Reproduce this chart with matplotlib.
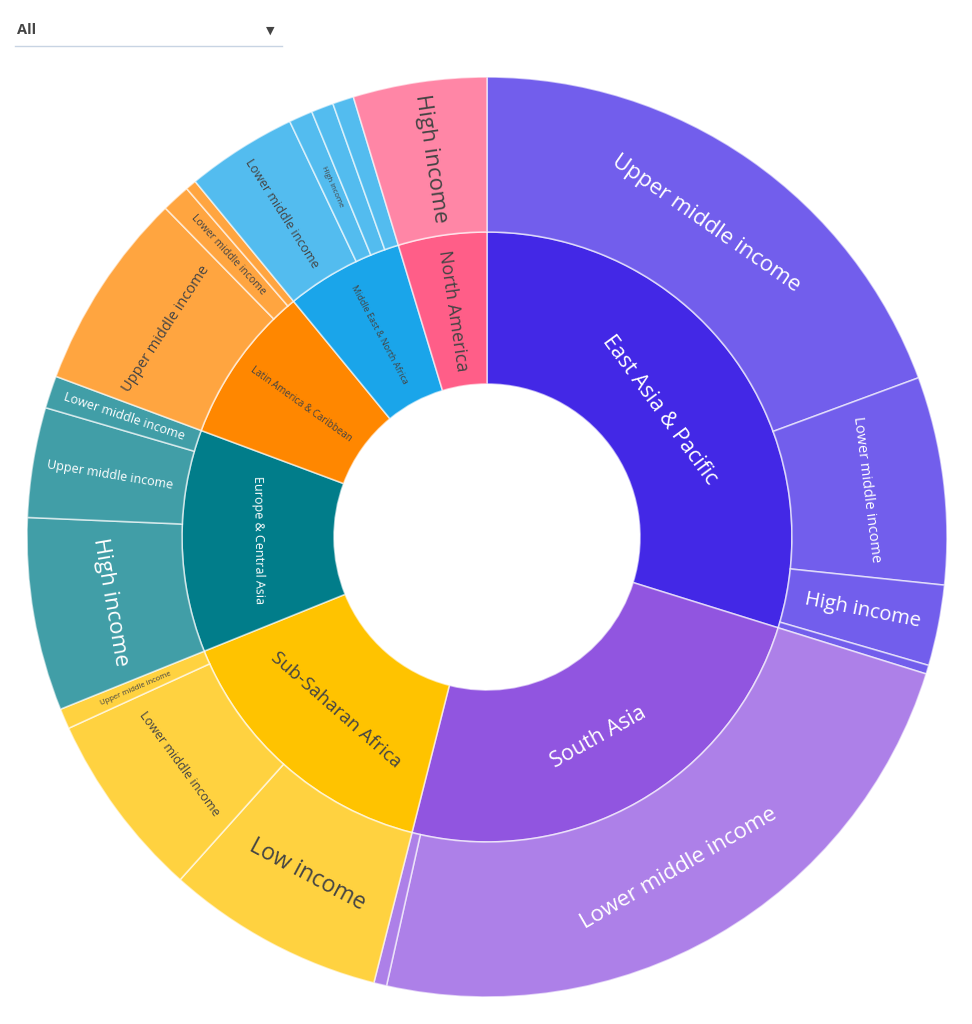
import numpy as np
import pandas as pd
import matplotlib
matplotlib.use('Agg')
import matplotlib.pyplot as plt
from matplotlib.lines import Line2D
from matplotlib.colors import to_rgb

plt.rcParams['font.family'] = ['Open Sans', 'DejaVu Sans']

# Población por región y grupo de ingreso (millones)
regiones = ['East Asia & Pacific', 'South Asia', 'Sub-Saharan Africa',
            'Europe & Central Asia', 'Latin America & Caribbean',
            'Middle East & North Africa', 'North America']

hijo_region = (['East Asia & Pacific'] * 4 + ['South Asia'] * 2 +
               ['Sub-Saharan Africa'] * 3 + ['Europe & Central Asia'] * 3 +
               ['Latin America & Caribbean'] * 3 +
               ['Middle East & North Africa'] * 4 + ['North America'])
hijo_ingreso = ['Upper middle income', 'Lower middle income', 'High income', 'Low income',
                'Lower middle income', 'Low income',
                'Low income', 'Lower middle income', 'Upper middle income',
                'High income', 'Upper middle income', 'Lower middle income',
                'Upper middle income', 'Lower middle income', 'High income',
                'Lower middle income', 'High income', 'Upper middle income', 'Low income',
                'High income']
poblacion = [1511, 569, 221, 24,
             1848, 35,
             598, 511, 56,
             529, 301, 89,
             546, 78, 30,
             303, 65, 61, 58,
             366]

df = pd.DataFrame({'region': hijo_region, 'ingreso': hijo_ingreso, 'pob': poblacion})
totales = df.groupby('region', sort=False)['pob'].sum().reindex(regiones)

# Estilos
color_region = {'East Asia & Pacific': '#4328E6', 'South Asia': '#9155E0',
                'Sub-Saharan Africa': '#FFC300', 'Europe & Central Asia': '#017D8A',
                'Latin America & Caribbean': '#FF8700',
                'Middle East & North Africa': '#1AA5EA', 'North America': '#FF5E88'}
texto_blanco = {'East Asia & Pacific', 'South Asia', 'Europe & Central Asia'}


def aclarar(c, f=0.25):
    r, g, b = to_rgb(c)
    return (r + (1 - r) * f, g + (1 - g) * f, b + (1 - b) * f)


estilo_interior = {
    'East Asia & Pacific': (15.5, 't'),
    'South Asia': (15.5, 't'),
    'Sub-Saharan Africa': (13.5, 't'),
    'Europe & Central Asia': (9, 't'),
    'Latin America & Caribbean': (7, 'r'),
    'Middle East & North Africa': (6.5, 'r'),
    'North America': (13, 'r'),
}
estilo_exterior = {
    ('East Asia & Pacific', 'Upper middle income'): (16, 't'),
    ('East Asia & Pacific', 'Lower middle income'): (10.5, 't'),
    ('East Asia & Pacific', 'High income'): (14.5, 'r'),
    ('South Asia', 'Lower middle income'): (16, 't'),
    ('Sub-Saharan Africa', 'Low income'): (16.5, 't'),
    ('Sub-Saharan Africa', 'Lower middle income'): (9, 't'),
    ('Sub-Saharan Africa', 'Upper middle income'): (5.5, 'r'),
    ('Europe & Central Asia', 'High income'): (16, 't'),
    ('Europe & Central Asia', 'Upper middle income'): (9, 'r'),
    ('Europe & Central Asia', 'Lower middle income'): (9, 'r'),
    ('Latin America & Caribbean', 'Upper middle income'): (10.5, 't'),
    ('Latin America & Caribbean', 'Lower middle income'): (7.5, 'r'),
    ('Middle East & North Africa', 'Lower middle income'): (9, 'r'),
    ('Middle East & North Africa', 'High income'): (5.5, 'r'),
    ('North America', 'High income'): (16, 'r'),
}

fig = plt.figure(figsize=(9.72, 10.24), dpi=100)
ax = fig.add_axes([27 / 972, 27 / 1024, 920 / 972, 920 / 1024])

r_hueco = 153 / 460
r_medio = 305 / 460
borde = dict(edgecolor=(1, 1, 1, 0.6), linewidth=1.2)

w_int, _ = ax.pie(totales.values, radius=r_medio, startangle=90, counterclock=False,
                  colors=[color_region[r] for r in regiones],
                  wedgeprops=dict(width=r_medio - r_hueco, **borde))
w_ext, _ = ax.pie(df['pob'].values, radius=1, startangle=90, counterclock=False,
                  colors=[aclarar(color_region[r]) for r in df['region']],
                  wedgeprops=dict(width=1 - r_medio, **borde))
ax.set_xlim(-1, 1)
ax.set_ylim(-1, 1)
ax.set_aspect('equal')
ax.axis('off')


def rotar(a):
    a = (a + 180) % 360 - 180
    if a > 90:
        a -= 180
    elif a <= -90:
        a += 180
    return a


def etiqueta(w, texto, r, tam, modo, color):
    phi = (w.theta1 + w.theta2) / 2
    rot = rotar(phi if modo == 'r' else phi - 90)
    ax.text(r * np.cos(np.radians(phi)), r * np.sin(np.radians(phi)), texto,
            rotation=rot, rotation_mode='anchor', ha='center', va='center',
            fontsize=tam, color=color)


for w, reg in zip(w_int, regiones):
    tam, modo = estilo_interior[reg]
    col = 'white' if reg in texto_blanco else '#444444'
    # la etiqueta de East Asia queda algo más hacia dentro
    r = 0.465 if reg == 'East Asia & Pacific' else (r_hueco + r_medio) / 2
    etiqueta(w, reg, r, tam, modo, col)

for w, reg, ing in zip(w_ext, df['region'], df['ingreso']):
    if (reg, ing) not in estilo_exterior:
        continue
    tam, modo = estilo_exterior[(reg, ing)]
    col = 'white' if reg in texto_blanco else '#444444'
    etiqueta(w, ing, (r_medio + 1) / 2, tam, modo, col)

# Selector "All"
fig.text(17 / 972, 1 - 30 / 1024, 'All', fontsize=10.5, fontweight='bold',
         color='#444444', va='center', ha='left')
fig.text(270 / 972, 1 - 31 / 1024, '\u25BC', fontsize=8, color='#444444',
         va='center', ha='center', family='DejaVu Sans')
fig.add_artist(Line2D([15 / 972, 282 / 972], [1 - 46 / 1024, 1 - 46 / 1024],
                      transform=fig.transFigure, color='#C8D4E3', linewidth=1))

fig.savefig('out.png', dpi=100)
